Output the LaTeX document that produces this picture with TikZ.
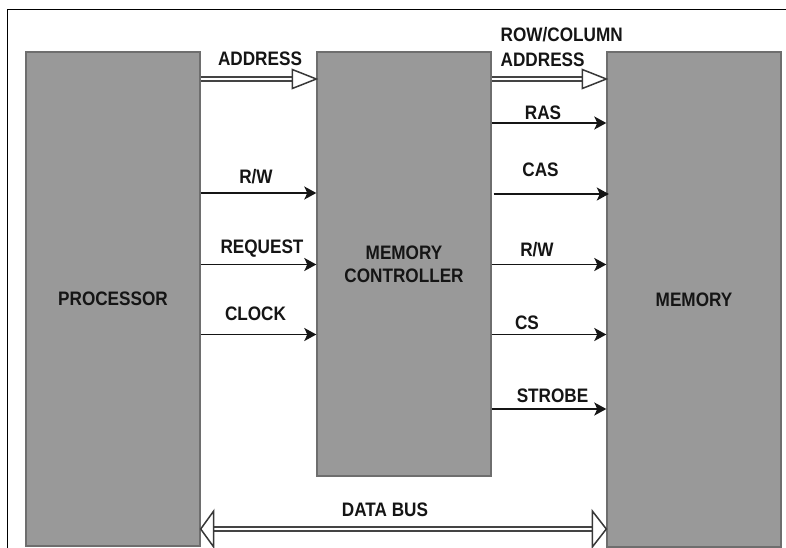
\documentclass[tikz,border=0pt]{standalone}
\usepackage{fontspec}
\setmainfont{Liberation Sans}[FakeStretch=0.88]
\usetikzlibrary{arrows.meta,calc}
\definecolor{boxgray}{HTML}{999999}
\definecolor{boxedge}{HTML}{6E6E6E}
\definecolor{ink}{HTML}{151515}
\begin{document}
\begin{tikzpicture}[x=1pt,y=-1pt,
  box/.style={draw=boxedge,line width=1.4pt,fill=boxgray,inner sep=0pt,
    font=\fontsize{19.5}{23}\selectfont\bfseries,text=ink,align=center},
  lbl/.style={font=\fontsize{19.5}{25}\selectfont\bfseries,text=ink,inner sep=0pt,align=left},
  sig/.style={draw=ink,line width=1.7pt,-{Stealth[length=12pt,width=13pt,inset=3pt]}},
  dshaft/.style={draw=ink!80,line width=2pt,double=white,double distance=2.8pt},
  hhead/.style={draw=ink!85,line width=1.5pt,fill=white,line join=miter},
  frame/.style={draw=black,line width=1.3pt}]
\useasboundingbox (0,0) rectangle (786,548);
\fill[white] (0,0) rectangle (786,548);
% frame lines
\draw[frame] (7,9.5) -- (786,9.5);
\draw[frame] (7.5,9.5) -- (7.5,548);
% blocks
\node[box,minimum width=174pt,minimum height=494pt] (proc) at (113,299) {PROCESSOR};
\node[box,minimum width=174pt,minimum height=424pt] (mc) at (404,264) {MEMORY\\CONTROLLER};
\node[box,minimum width=174pt,minimum height=495pt] (mem) at (694,299.5) {MEMORY};
% ADDRESS (hollow double arrow)
\coordinate (a1) at (proc.east |- 0,79);
\coordinate (a2) at (mc.west |- 0,79);
\draw[dshaft] (a1) -- ($(a2)+(-24,0)$);
\draw[hhead] ($(a2)+(-24,-9.5)$) -- (a2) -- ($(a2)+(-24,9.5)$) -- cycle;
\node[lbl] (laddr) at (260,59) {ADDRESS};
% ROW/COLUMN ADDRESS
\coordinate (b1) at (mc.east |- 0,79);
\coordinate (b2) at (mem.west |- 0,79);
\draw[dshaft] (b1) -- ($(b2)+(-24,0)$);
\draw[hhead] ($(b2)+(-24,-9.5)$) -- (b2) -- ($(b2)+(-24,9.5)$) -- cycle;
\node[lbl,anchor=west] (lrow) at (500.5,47.5) {ROW/COLUMN\\ADDRESS};
% left signals
\draw[sig] (proc.east |- 0,193) -- (mc.west |- 0,193);
\node[lbl] (lrw1) at (256,177) {R/W};
\draw[sig] (proc.east |- 0,264.5) -- (mc.west |- 0,264.5);
\node[lbl] (lreq) at (262,249) {REQUEST};
\draw[sig] (proc.east |- 0,334.5) -- (mc.west |- 0,334.5);
\node[lbl] (lclk) at (255.5,314) {CLOCK};
% right signals
\draw[sig] (mc.east |- 0,123) -- (mem.west |- 0,123);
\node[lbl] (lras) at (543,113) {RAS};
\draw[sig] ($(mc.east |- 0,194)+(2,0)$) -- ($(mem.west |- 0,194)+(2.5,0)$);
\node[lbl] (lcas) at (540.5,169.5) {CAS};
\draw[sig] (mc.east |- 0,264.5) -- (mem.west |- 0,264.5);
\node[lbl] (lrw2) at (537,249.5) {R/W};
\draw[sig] (mc.east |- 0,334.5) -- (mem.west |- 0,334.5);
\node[lbl] (lcs) at (527,323) {CS};
\draw[sig] (mc.east |- 0,409) -- (mem.west |- 0,409);
\node[lbl] (lstr) at (552.5,396) {STROBE};
% DATA BUS
\coordinate (d1) at (proc.east |- 0,529);
\coordinate (d2) at (mem.west |- 0,529);
\draw[dshaft] ($(d1)+(13,0)$) -- ($(d2)+(-14,0)$);
\draw[hhead] ($(d1)+(13,-18)$) -- (d1) -- ($(d1)+(13,18)$) -- cycle;
\draw[hhead] ($(d2)+(-14,-18)$) -- (d2) -- ($(d2)+(-14,18)$) -- cycle;
\node[lbl] (ldb) at (385,510) {DATA BUS};
\end{tikzpicture}
\end{document}
